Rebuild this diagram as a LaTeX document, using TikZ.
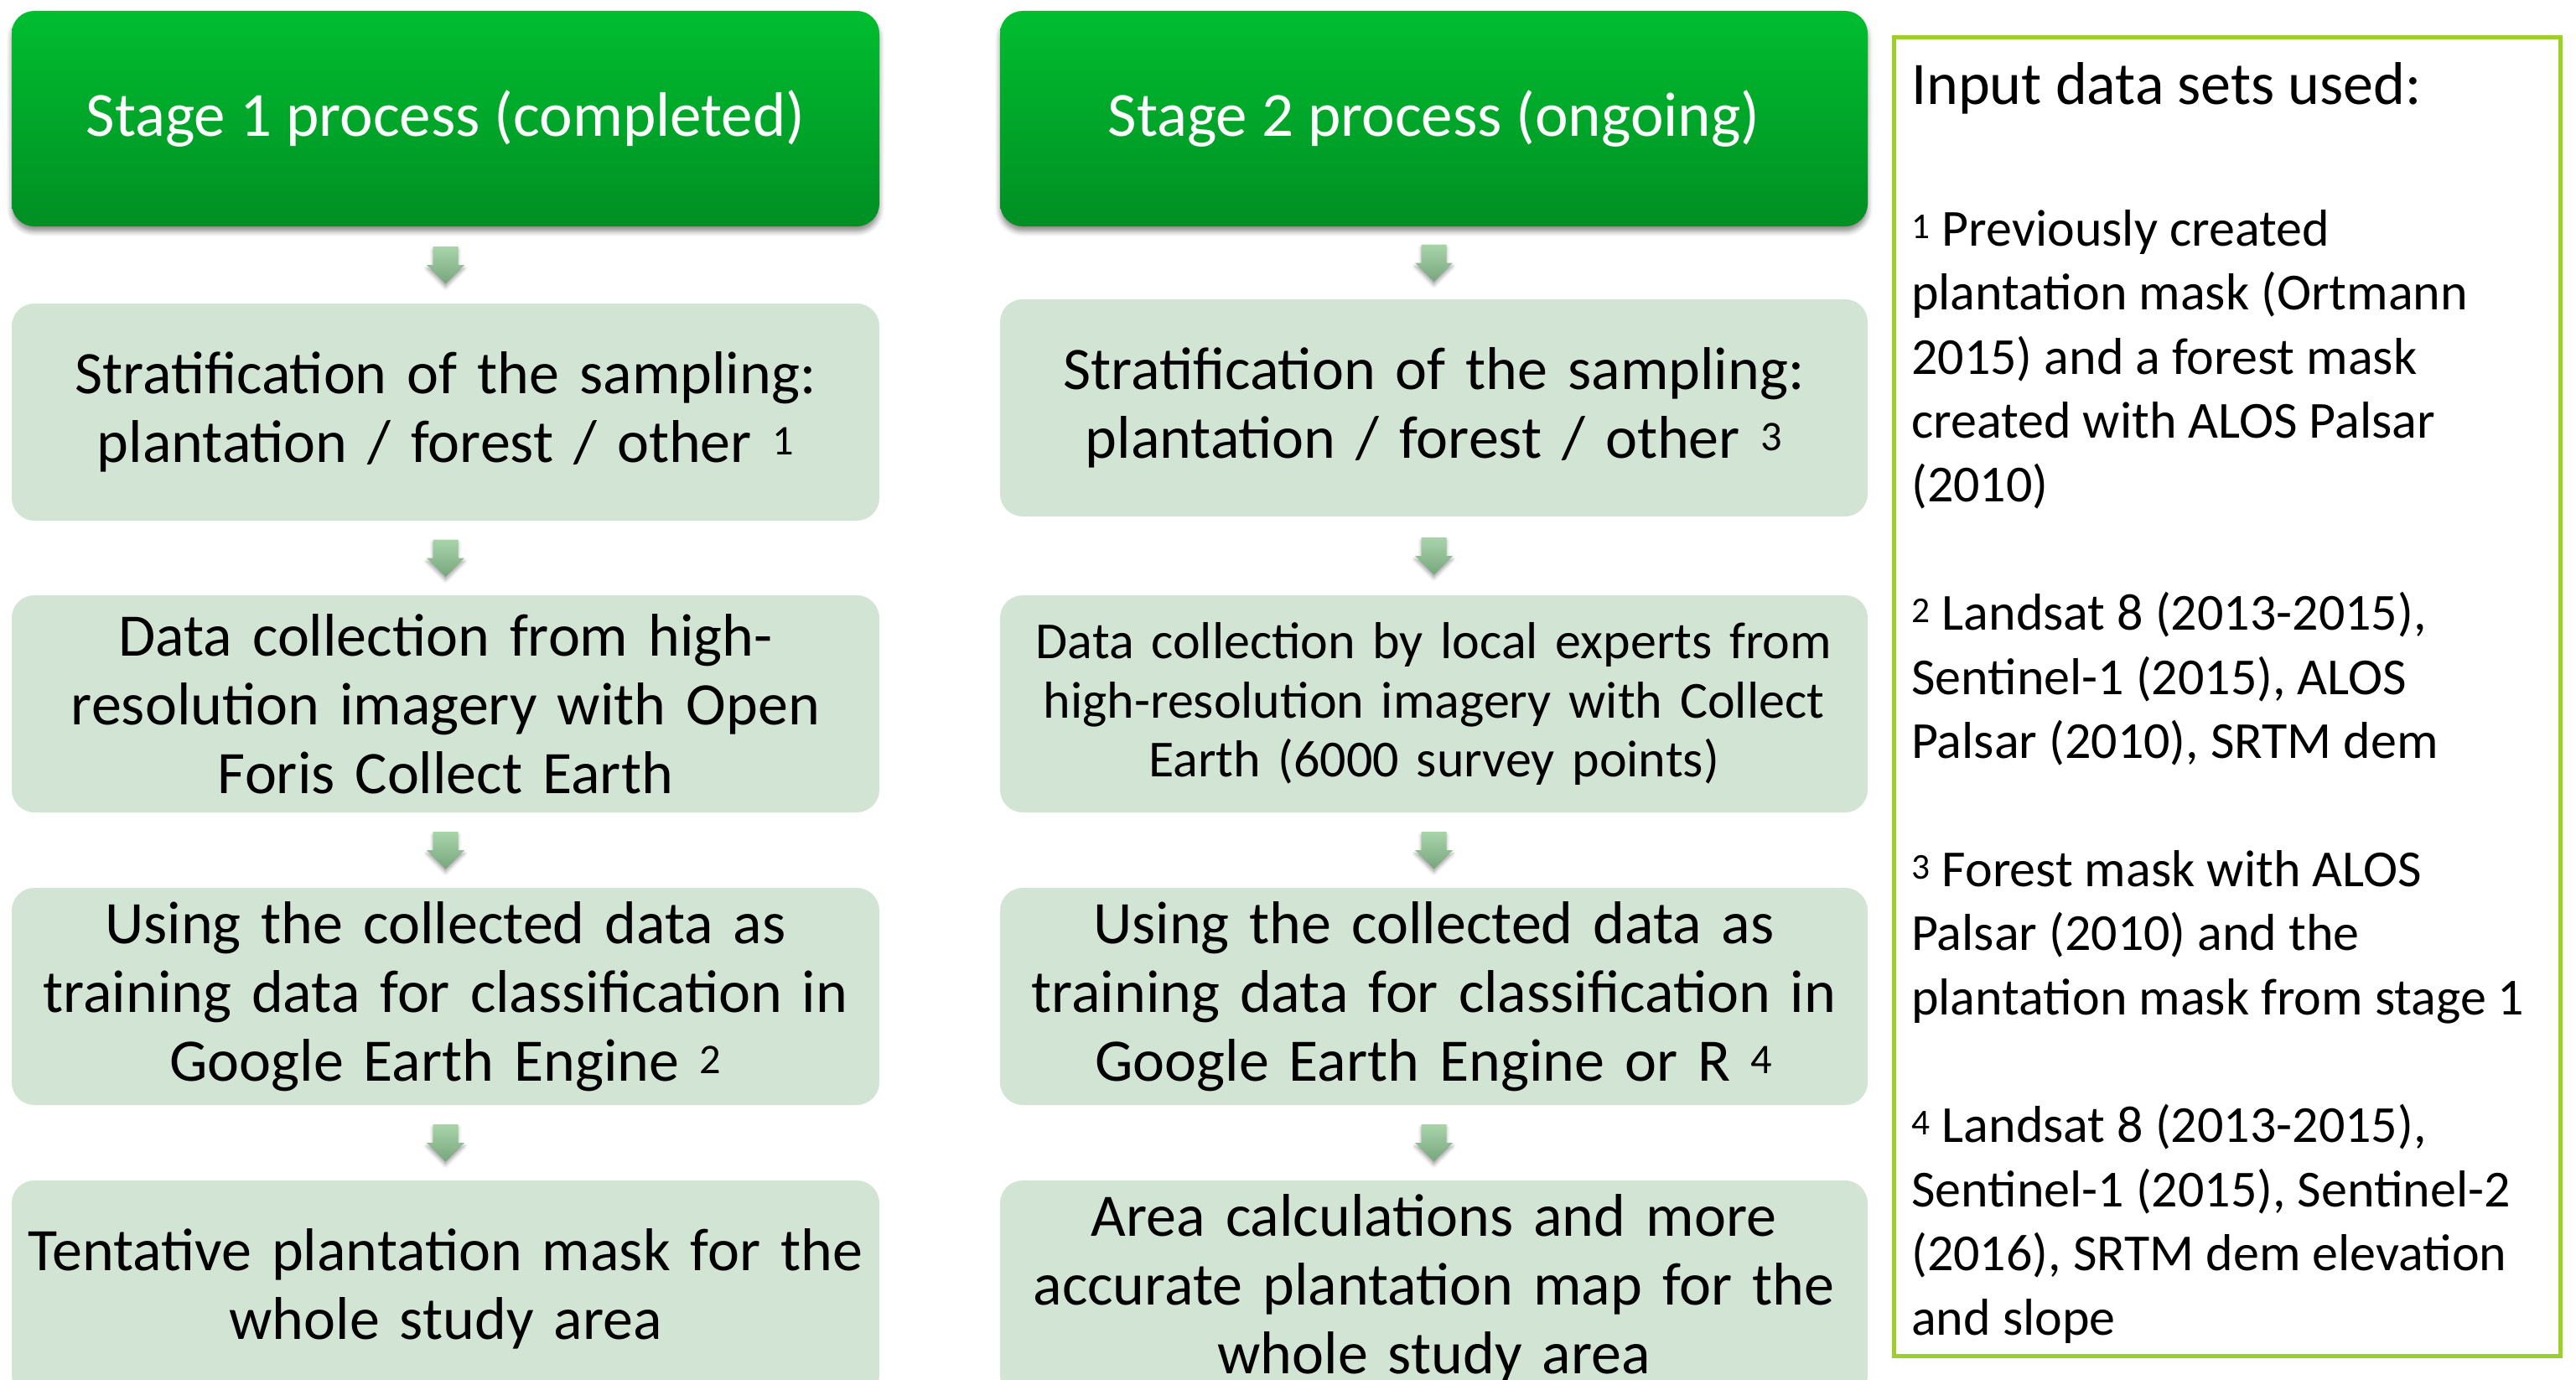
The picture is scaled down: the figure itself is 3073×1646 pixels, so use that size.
\documentclass[tikz,border=0pt]{standalone}
\usepackage{fontspec}
\setmainfont{Carlito}
\usetikzlibrary{calc,shadows.blur}

\definecolor{hdrtop}{RGB}{0,190,48}
\definecolor{hdrbot}{RGB}{0,143,35}
\definecolor{boxfill}{RGB}{210,228,211}
\definecolor{arrtop}{RGB}{168,212,170}
\definecolor{arrbot}{RGB}{120,166,124}
\definecolor{panelline}{RGB}{155,208,40}

% block arrow centred on a named coordinate
\newcommand{\flowarrow}[1]{%
  \shade[arrowshade]
    ($(#1)+(-15,-22)$) -- ($(#1)+(15,-22)$) -- ($(#1)+(15,0)$) --
    ($(#1)+(22.5,0)$) -- ($(#1)+(0,22.5)$) -- ($(#1)+(-22.5,0)$) --
    ($(#1)+(-15,0)$) -- cycle;}

\begin{document}
\begin{tikzpicture}[x=1pt,y=-1pt,
  stagehead/.style={anchor=north west, rounded corners=27pt,
    minimum width=1035pt, minimum height=257pt, inner sep=0pt, outer sep=0pt,
    top color=hdrtop, bottom color=hdrbot, text=white,
    font=\fontsize{75}{84}\selectfont,
    blur shadow={shadow xshift=0pt, shadow yshift=-6pt,
      shadow blur radius=6pt, shadow opacity=45}},
  stepbox/.style={anchor=north west, rounded corners=27pt,
    minimum width=1035pt, minimum height=259pt, inner sep=0pt, outer sep=0pt,
    fill=boxfill, align=center, text width=1010pt,
    font=\fontsize{72}{82}\selectfont},
  smalltext/.style={font=\fontsize{62}{70.6}\selectfont},
  arrowshade/.style={top color=arrtop, bottom color=arrbot,
    blur shadow={shadow xshift=0pt, shadow yshift=-4pt,
      shadow blur radius=4pt, shadow opacity=35}}
]
\clip (0,0) rectangle (3073,1646);

% stage 1 column
\node[stagehead] (h1) at (14,13) {Stage 1 process (completed)};
\node[stepbox] (r11) at (14,362) {Stratification of the sampling:\\plantation / forest / other \textsuperscript{1}};
\node[stepbox] (r12) at (14,710) {Data collection from high-\\resolution imagery with Open\\Foris Collect Earth};
\node[stepbox] (r13) at (14,1059) {Using the collected data as\\training data for classification in\\Google Earth Engine \textsuperscript{2}};
\node[stepbox] (r14) at (14,1408) {Tentative plantation mask for the\\whole study area};

% stage 2 column
\node[stagehead] (h2) at (1193,13) {Stage 2 process (ongoing)};
\node[stepbox] (r21) at (1193,357) {Stratification of the sampling:\\plantation / forest / other \textsuperscript{3}};
\node[stepbox, smalltext] (r22) at (1193,710) {Data collection by local experts from\\high-resolution imagery with Collect\\Earth (6000 survey points)};
\node[stepbox] (r23) at (1193,1059) {Using the collected data as\\training data for classification in\\Google Earth Engine or R \textsuperscript{4}};
\node[stepbox] (r24) at (1193,1408) {Area calculations and more\\accurate plantation map for the\\whole study area};

% arrows between the steps
\foreach \a/\b [count=\i] in {h1/r11,r11/r12,r12/r13,r13/r14,h2/r21,r21/r22,r22/r23,r23/r24}{
  \coordinate (m\i) at ($(\a.south)!0.5!(\b.north)$);
  \flowarrow{m\i}
}

% input data panel
\node[draw=panelline, line width=5pt, anchor=north west, inner sep=0pt, outer sep=0pt,
  minimum width=795pt, minimum height=1572pt] (panel) at (2259,45) {};
\node[anchor=base west, inner sep=0pt, font=\fontsize{72}{80}\selectfont] (ptitle) at (2280,124) {Input data sets used:};
% the base anchor of a multi-line node sits on its last line
\node[anchor=base west, inner sep=0pt, align=left, font=\fontsize{62}{76.4}\selectfont] (pnotes) at (2280,1592)
  {\textsuperscript{1} Previously created\\
   plantation mask (Ortmann\\
   2015) and a forest mask\\
   created with ALOS Palsar\\
   (2010)\\[76.4pt]
   \textsuperscript{2} Landsat 8 (2013-2015),\\
   Sentinel-1 (2015), ALOS\\
   Palsar (2010), SRTM dem\\[76.4pt]
   \textsuperscript{3} Forest mask with ALOS\\
   Palsar (2010) and the\\
   plantation mask from stage 1\\[76.4pt]
   \textsuperscript{4} Landsat 8 (2013-2015),\\
   Sentinel-1 (2015), Sentinel-2\\
   (2016), SRTM dem elevation\\
   and slope};
\end{tikzpicture}
\end{document}
